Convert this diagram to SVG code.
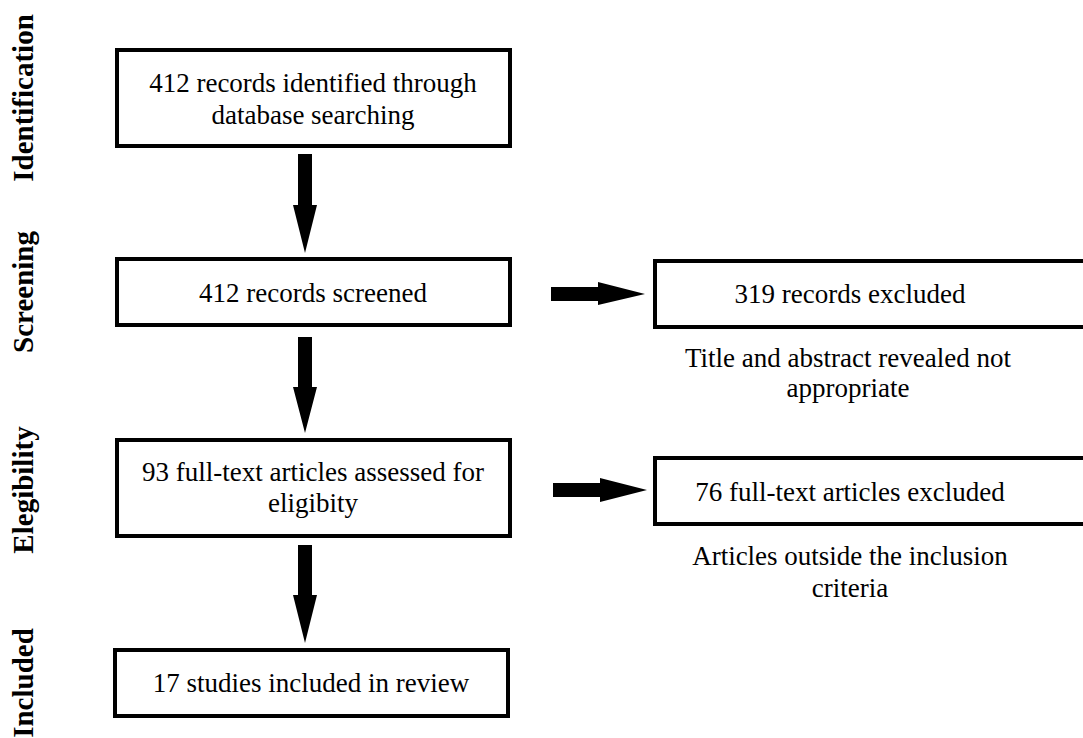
<svg xmlns="http://www.w3.org/2000/svg" width="1083" height="738" viewBox="0 0 1083 738">
  <style>
    .box { fill: #ffffff; stroke: #000000; stroke-width: 4; }
    .t { font-family: "Liberation Serif", "Times New Roman", serif; font-size: 27px; fill: #000000; text-anchor: middle; }
    .lab { font-family: "Liberation Serif", "Times New Roman", serif; font-size: 29px; font-weight: bold; fill: #000000; text-anchor: middle; }
    .arr { fill: #000000; stroke: none; }
  </style>
  <rect width="1083" height="738" fill="#ffffff"/>

  <g id="labels">
    <text class="lab" transform="translate(33,98) rotate(-90)">Identification</text>
    <text class="lab" transform="translate(33,292) rotate(-90)">Screening</text>
    <text class="lab" transform="translate(33,490) rotate(-90)">Elegibility</text>
    <text class="lab" transform="translate(33,683) rotate(-90)">Included</text>
  </g>

  <g id="connectors">
    <polygon class="arr" points="298,154 312,154 312,205 317,205 305,253 293,205 298,205"/>
    <polygon class="arr" points="298,337 312,337 312,387 317,387 305,433 293,387 298,387"/>
    <polygon class="arr" points="298,545 312,545 312,595 317,595 305,643 293,595 298,595"/>
    <polygon class="arr" points="551,287 598,287 598,282 645,294 598,305 598,301 551,301"/>
    <polygon class="arr" points="553,483 600,483 600,478 647,490 600,502 600,497 553,497"/>
  </g>

  <g id="node-identified">
    <rect class="box" x="117" y="50" width="393" height="96"/>
    <text class="t" x="313" y="92">412 records identified through</text>
    <text class="t" x="313" y="124">database searching</text>
  </g>

  <g id="node-screened">
    <rect class="box" x="117" y="259" width="393" height="66"/>
    <text class="t" x="313" y="302">412 records screened</text>
  </g>

  <g id="node-assessed">
    <rect class="box" x="117" y="440" width="393" height="96"/>
    <text class="t" x="313" y="481">93 full-text articles assessed for</text>
    <text class="t" x="313" y="512">eligibity</text>
  </g>

  <g id="node-included">
    <rect class="box" x="115" y="650" width="393" height="66"/>
    <text class="t" x="311" y="692">17 studies included in review</text>
  </g>

  <g id="node-excluded1">
    <rect class="box" x="655" y="261" width="500" height="66"/>
    <text class="t" x="850" y="303">319 records excluded</text>
    <text class="t" x="848" y="367">Title and abstract revealed not</text>
    <text class="t" x="848" y="397">appropriate</text>
  </g>

  <g id="node-excluded2">
    <rect class="box" x="655" y="458" width="500" height="66"/>
    <text class="t" x="850" y="501">76 full-text articles excluded</text>
    <text class="t" x="850" y="565">Articles outside the inclusion</text>
    <text class="t" x="850" y="597">criteria</text>
  </g>
</svg>
